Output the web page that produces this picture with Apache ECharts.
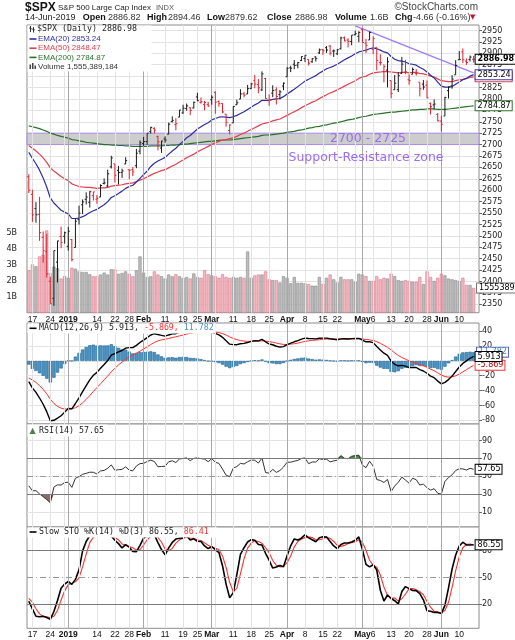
<!DOCTYPE html>
<html>
<head>
<meta charset="utf-8">
<title>$SPX Daily</title>
<script src="https://cdn.jsdelivr.net/npm/echarts@6.0.0/dist/echarts.min.js"></script>
<style>
  html, body { margin: 0; padding: 0; background: #fff; }
  #chart { width: 515px; height: 640px; }
</style>
</head>
<body>
<div id="chart"></div>
<script>
// trading days on the chart, by month
var monthDays = [
  ['Dec', [14, 17, 18, 19, 20, 21, 24, 26, 27, 28, 31]],
  ['Jan', [2, 3, 4, 7, 8, 9, 10, 11, 14, 15, 16, 17, 18, 22, 23, 24, 25, 28, 29, 30, 31]],
  ['Feb', [1, 4, 5, 6, 7, 8, 11, 12, 13, 14, 15, 19, 20, 21, 22, 25, 26, 27, 28]],
  ['Mar', [1, 4, 5, 6, 7, 8, 11, 12, 13, 14, 15, 18, 19, 20, 21, 22, 25, 26, 27, 28, 29]],
  ['Apr', [1, 2, 3, 4, 5, 8, 9, 10, 11, 12, 15, 16, 17, 18, 22, 23, 24, 25, 26, 29, 30]],
  ['May', [1, 2, 3, 6, 7, 8, 9, 10, 13, 14, 15, 16, 17, 20, 21, 22, 23, 24, 28, 29, 30, 31]],
  ['Jun', [3, 4, 5, 6, 7, 10, 11, 12, 13, 14]]
];
var prevClose = 2650.54; // 13-Dec, only used to colour the first bar

var openP = [2629.68, 2590.75, 2559.90, 2547.05, 2496.77, 2465.38, 2400.56, 2363.12, 2442.50, 2498.77, 2498.94,
  2476.96, 2491.92, 2474.33, 2535.61, 2568.11, 2580.00, 2573.51, 2588.11, 2580.31, 2585.10, 2614.75, 2609.28, 2651.27, 2657.88, 2643.48, 2638.84, 2657.44, 2644.97, 2644.89, 2653.62, 2685.49,
  2702.32, 2706.49, 2728.34, 2735.05, 2717.53, 2692.36, 2712.40, 2722.61, 2750.30, 2743.50, 2760.24, 2769.28, 2779.05, 2780.67, 2780.24, 2804.35, 2792.36, 2787.50, 2788.11,
  2798.22, 2814.37, 2794.41, 2790.27, 2766.53, 2730.79, 2747.61, 2787.34, 2799.78, 2811.02, 2810.79, 2822.61, 2840.76, 2831.34, 2819.72, 2844.52, 2796.01, 2812.66, 2819.72, 2809.40, 2828.27,
  2848.63, 2868.24, 2876.09, 2873.99, 2884.16, 2888.46, 2886.58, 2881.37, 2891.92, 2900.86, 2908.32, 2912.26, 2916.04, 2904.81, 2898.78, 2909.99, 2934.00, 2928.99, 2925.81, 2940.58, 2937.14,
  2952.33, 2922.16, 2929.21, 2908.89, 2913.03, 2879.61, 2859.84, 2863.10, 2840.19, 2820.12, 2820.38, 2855.80, 2858.60, 2841.94, 2854.02, 2856.06, 2836.70, 2832.41, 2830.03, 2790.25, 2786.94, 2766.15,
  2751.53, 2762.64, 2818.09, 2828.51, 2852.87, 2885.83, 2903.27, 2882.73, 2886.24, 2886.82];
var highP = [2635.07, 2601.13, 2573.99, 2585.29, 2509.63, 2504.41, 2410.34, 2467.76, 2489.10, 2520.27, 2509.24,
  2519.49, 2493.14, 2538.07, 2566.16, 2579.82, 2595.32, 2597.82, 2596.27, 2589.32, 2613.08, 2625.76, 2645.06, 2675.47, 2657.88, 2653.19, 2647.20, 2672.38, 2644.97, 2650.93, 2690.44, 2708.95,
  2716.66, 2724.99, 2738.98, 2738.08, 2719.32, 2708.07, 2718.05, 2748.19, 2761.85, 2757.90, 2775.66, 2787.33, 2789.88, 2781.58, 2794.20, 2813.49, 2803.12, 2795.76, 2793.73,
  2808.02, 2816.88, 2796.44, 2790.27, 2767.25, 2744.13, 2784.00, 2798.32, 2821.24, 2815.00, 2830.73, 2835.41, 2852.42, 2843.54, 2860.31, 2846.16, 2809.79, 2829.87, 2825.56, 2819.71, 2836.03,
  2869.40, 2872.90, 2885.25, 2881.28, 2893.24, 2895.95, 2886.88, 2889.71, 2893.42, 2910.54, 2909.60, 2916.06, 2918.00, 2908.40, 2909.51, 2936.31, 2936.83, 2933.10, 2939.88, 2949.52, 2948.22,
  2954.13, 2931.68, 2947.85, 2937.32, 2913.03, 2897.96, 2875.97, 2891.31, 2840.19, 2852.54, 2858.68, 2892.15, 2885.48, 2853.86, 2868.88, 2865.47, 2836.70, 2841.36, 2840.51, 2792.03, 2799.00, 2768.98,
  2763.07, 2804.49, 2827.28, 2852.10, 2884.97, 2904.77, 2910.61, 2888.57, 2895.24, 2894.45];
var lowP = [2593.84, 2530.54, 2528.71, 2488.96, 2441.18, 2408.55, 2351.10, 2346.58, 2397.94, 2472.89, 2482.82,
  2467.47, 2443.96, 2474.33, 2524.56, 2547.56, 2568.89, 2562.02, 2577.40, 2570.41, 2585.10, 2612.68, 2606.36, 2647.58, 2617.27, 2612.86, 2627.01, 2657.33, 2624.06, 2631.05, 2648.34, 2678.65,
  2696.88, 2698.75, 2724.03, 2724.15, 2687.26, 2681.83, 2703.79, 2722.61, 2748.63, 2731.23, 2760.24, 2767.29, 2774.06, 2764.55, 2779.11, 2794.99, 2789.47, 2775.13, 2782.51,
  2787.38, 2767.66, 2782.97, 2768.69, 2739.09, 2722.27, 2747.61, 2786.73, 2799.78, 2803.46, 2810.79, 2821.99, 2823.27, 2812.43, 2817.38, 2800.47, 2785.02, 2803.99, 2787.72, 2798.77, 2819.23,
  2848.63, 2858.75, 2865.17, 2867.14, 2882.99, 2880.78, 2873.33, 2879.13, 2881.99, 2898.37, 2896.48, 2900.71, 2895.45, 2891.90, 2896.35, 2908.53, 2926.05, 2912.84, 2917.56, 2939.35, 2924.11,
  2923.36, 2900.50, 2929.21, 2898.21, 2862.60, 2873.28, 2836.40, 2825.39, 2801.43, 2820.12, 2815.08, 2855.80, 2854.23, 2831.29, 2854.02, 2851.11, 2805.49, 2820.19, 2801.58, 2766.06, 2776.74, 2750.52,
  2728.81, 2762.64, 2800.92, 2822.45, 2852.87, 2885.51, 2878.53, 2874.68, 2881.99, 2879.62];
var closeP = [2599.95, 2545.94, 2546.16, 2506.96, 2467.42, 2416.62, 2351.10, 2467.70, 2488.83, 2485.74, 2506.85,
  2510.03, 2447.89, 2531.94, 2549.69, 2574.41, 2584.96, 2596.64, 2596.26, 2582.61, 2610.30, 2616.10, 2635.96, 2670.71, 2632.90, 2638.70, 2642.33, 2664.76, 2643.85, 2640.00, 2681.05, 2704.10,
  2706.53, 2724.87, 2737.70, 2731.61, 2706.05, 2707.88, 2709.80, 2744.73, 2753.03, 2745.73, 2775.60, 2779.76, 2784.70, 2774.88, 2792.67, 2796.11, 2793.90, 2792.38, 2784.49,
  2803.69, 2792.81, 2789.65, 2771.45, 2748.93, 2743.07, 2783.30, 2791.52, 2810.92, 2808.48, 2822.48, 2832.94, 2832.57, 2824.23, 2854.88, 2800.71, 2798.36, 2818.46, 2805.37, 2815.44, 2834.40,
  2867.19, 2867.24, 2873.40, 2879.39, 2892.74, 2895.77, 2878.20, 2888.21, 2888.32, 2907.41, 2905.58, 2907.06, 2900.45, 2905.03, 2907.97, 2933.68, 2927.25, 2926.17, 2939.88, 2943.03, 2945.83,
  2923.73, 2917.52, 2945.64, 2932.47, 2884.05, 2879.42, 2870.72, 2881.40, 2811.87, 2834.41, 2850.96, 2876.32, 2859.53, 2840.23, 2864.36, 2856.27, 2822.24, 2826.06, 2802.39, 2783.02, 2788.86, 2752.06,
  2744.45, 2803.27, 2826.15, 2843.49, 2873.34, 2886.73, 2885.72, 2879.84, 2891.64, 2886.98];

// volume in billions of shares
var volume = [2.67, 3.04, 2.92, 3.54, 3.65, 5.17, 2.5, 2.9, 2.8, 2.15, 2.3,
  2.2, 2.83, 2.77, 2.6, 2.56, 2.56, 2.42, 2.29, 2.3, 2.4, 2.52, 2.4, 2.73, 2.73, 2.45, 2.5, 2.6, 2.45, 2.29, 2.67, 3.54,
  2.52, 2.25, 2.29, 2.6, 2.4, 2.29, 2.15, 2.4, 2.29, 2.42, 2.29, 2.19, 2.25, 2.15, 2.47, 2.25, 2.2, 2.67, 2.42,
  2.35, 2.29, 2.2, 2.42, 2.25, 2.19, 2.25, 2.2, 2.25, 2.2, 3.85, 2.2, 2.35, 2.4, 2.4, 2.6, 2.1, 2.05, 2.05, 1.9, 2.3,
  2.2, 1.85, 2.25, 1.88, 1.88, 1.85, 1.8, 1.7, 1.7, 2.25, 1.82, 2.2, 2.4, 2.1, 1.9, 2.25, 2.1, 2.1, 2.1, 1.95, 2.45,
  2.4, 2.3, 2.0, 2.0, 2.3, 2.1, 2.2, 2.15, 2.45, 2.3, 2.05, 2.0, 2.05, 2.0, 1.95, 1.95, 2.25, 1.8, 2.6, 2.25, 2.0, 2.2,
  2.45, 2.35, 2.15, 2.1, 2.05, 2.0, 2.2, 1.75, 1.75, 1.555];

var ema20 = [2683, 2670, 2658, 2644, 2627, 2607, 2583, 2572, 2564, 2556, 2552,
  2548, 2538, 2538, 2539, 2542, 2546, 2551, 2555, 2558, 2563, 2568, 2575, 2584, 2588, 2593, 2598, 2604, 2608, 2611, 2618, 2626,
  2634, 2642, 2652, 2659, 2664, 2668, 2672, 2679, 2686, 2692, 2700, 2707, 2715, 2720, 2727, 2734, 2739, 2744, 2748,
  2754, 2757, 2760, 2761, 2760, 2759, 2761, 2764, 2768, 2772, 2777, 2782, 2787, 2791, 2797, 2797, 2797, 2799, 2800, 2801, 2805,
  2811, 2816, 2821, 2827, 2833, 2839, 2843, 2847, 2851, 2857, 2861, 2866, 2869, 2872, 2876, 2881, 2886, 2890, 2894, 2899, 2903,
  2905, 2907, 2910, 2912, 2910, 2907, 2903, 2901, 2893, 2887, 2884, 2883, 2881, 2877, 2876, 2874, 2869, 2865, 2859, 2852, 2846, 2837,
  2828, 2826, 2826, 2827, 2832, 2837, 2842, 2845, 2850, 2853.24];
var ema50 = [2698, 2692, 2686, 2679, 2671, 2661, 2649, 2642, 2636, 2630, 2625,
  2621, 2614, 2611, 2608, 2607, 2606, 2606, 2605, 2604, 2605, 2605, 2606, 2609, 2610, 2611, 2612, 2614, 2615, 2616, 2619, 2622,
  2625, 2629, 2633, 2637, 2640, 2643, 2645, 2649, 2653, 2657, 2662, 2666, 2671, 2675, 2679, 2684, 2688, 2692, 2696,
  2700, 2704, 2707, 2710, 2711, 2713, 2715, 2718, 2722, 2725, 2729, 2733, 2737, 2741, 2745, 2747, 2749, 2752, 2754, 2756, 2760,
  2764, 2768, 2772, 2776, 2781, 2785, 2789, 2793, 2796, 2801, 2805, 2809, 2813, 2816, 2820, 2824, 2828, 2832, 2836, 2840, 2845,
  2848, 2850, 2854, 2857, 2858, 2859, 2860, 2860, 2859, 2858, 2857, 2858, 2858, 2857, 2858, 2858, 2856, 2855, 2853, 2850, 2848, 2844,
  2840, 2839, 2838, 2838, 2840, 2842, 2843, 2845, 2847, 2848.47];
var ema200 = [2741, 2739, 2737, 2735, 2732, 2729, 2725, 2723, 2720, 2718, 2716,
  2714, 2711, 2710, 2708, 2707, 2705, 2704, 2703, 2702, 2701, 2700, 2700, 2699, 2699, 2698, 2698, 2697, 2697, 2696, 2696, 2696,
  2696, 2696, 2697, 2697, 2697, 2697, 2698, 2698, 2699, 2699, 2700, 2701, 2701, 2702, 2703, 2704, 2705, 2706, 2707,
  2707, 2708, 2709, 2710, 2710, 2710, 2711, 2712, 2713, 2714, 2715, 2716, 2717, 2718, 2720, 2721, 2721, 2722, 2723, 2724, 2725,
  2727, 2728, 2729, 2731, 2732, 2734, 2736, 2737, 2739, 2740, 2742, 2743, 2745, 2747, 2748, 2750, 2752, 2754, 2755, 2757, 2759,
  2761, 2762, 2764, 2766, 2767, 2768, 2769, 2770, 2771, 2771, 2772, 2773, 2774, 2775, 2776, 2776, 2777, 2777, 2778, 2778, 2778, 2777,
  2777, 2777, 2778, 2779, 2780, 2781, 2782, 2783, 2784, 2784.87];

var macdLine = [-28.0, -36.4, -42.5, -50.0, -58.4, -68.4, -80.7, -80.0, -77.0, -73.9, -69.0,
  -64.1, -64.5, -57.4, -49.7, -41.3, -33.2, -25.6, -19.4, -15.5, -9.9, -4.9, 0.4, 7.6, 9.9, 12.1, 14.0, 17.2, 17.8, 17.8, 20.9, 24.8,
  27.9, 31.3, 34.8, 36.6, 35.5, 34.4, 33.3, 34.9, 36.4, 36.6, 38.7, 40.3, 41.3, 41.0, 41.7, 42.0, 41.6, 40.7, 38.9,
  38.5, 37.0, 35.0, 31.7, 27.0, 22.5, 21.9, 21.8, 23.0, 23.6, 24.8, 26.3, 27.2, 26.9, 28.9, 25.7, 22.7, 21.7, 19.7, 18.6, 19.2,
  22.0, 23.9, 25.7, 27.2, 29.2, 30.7, 30.1, 30.0, 29.6, 30.5, 30.7, 30.7, 29.8, 29.1, 28.4, 29.6, 29.8, 29.4, 29.9, 30.1, 30.2,
  28.1, 25.7, 25.8, 24.6, 19.4, 14.7, 10.3, 7.5, -0.4, -4.6, -6.6, -6.0, -7.0, -9.1, -8.7, -8.9, -11.8, -13.6, -16.7, -20.5, -22.7, -27.2,
  -31.0, -28.9, -25.2, -20.5, -14.3, -8.2, -3.4, 0.0, 3.5, 5.913];
var macdSignal = [-23.0, -25.7, -29.0, -33.3, -38.3, -44.4, -51.6, -57.3, -61.2, -63.7, -64.8,
  -64.6, -64.5, -63.1, -60.4, -56.6, -51.9, -46.7, -41.2, -36.0, -30.8, -25.6, -20.4, -14.8, -9.9, -5.5, -1.6, 2.1, 5.2, 7.7, 10.3, 13.1,
  16.0, 18.9, 22.0, 24.8, 26.9, 28.3, 29.2, 30.2, 31.4, 32.4, 33.6, 34.9, 36.1, 37.0, 37.9, 38.7, 39.3, 39.6, 39.4,
  39.2, 38.8, 38.0, 36.8, 34.8, 32.3, 30.2, 28.6, 27.4, 26.6, 26.3, 26.3, 26.4, 26.6, 27.0, 26.7, 25.9, 25.1, 24.0, 22.9, 22.1,
  22.1, 22.5, 23.1, 23.9, 25.1, 26.2, 27.0, 27.6, 28.0, 28.5, 29.0, 29.4, 29.5, 29.4, 29.2, 29.3, 29.4, 29.4, 29.5, 29.7, 29.8,
  29.5, 28.8, 28.2, 27.5, 25.9, 23.7, 21.0, 18.3, 14.6, 10.8, 7.3, 4.6, 2.3, 0.0, -1.7, -3.2, -4.9, -6.6, -8.6, -11.0, -13.3, -16.1,
  -19.1, -21.1, -21.9, -21.6, -20.1, -17.7, -14.8, -11.8, -8.8, -5.869];
var macdHist = [-5.0, -10.7, -13.5, -16.7, -20.1, -24.0, -29.1, -22.7, -15.8, -10.2, -4.2,
  0.5, 0.0, 5.7, 10.7, 15.3, 18.7, 21.1, 21.8, 20.5, 20.9, 20.7, 20.8, 22.4, 19.8, 17.6, 15.6, 15.1, 12.6, 10.1, 10.6, 11.7,
  11.9, 12.4, 12.8, 11.8, 8.6, 6.1, 4.1, 4.7, 5.0, 4.2, 5.1, 5.4, 5.2, 4.0, 3.8, 3.3, 2.3, 1.1, -0.5,
  -0.7, -1.8, -3.0, -5.1, -7.8, -9.8, -8.3, -6.8, -4.4, -3.0, -1.5, 0.0, 0.8, 0.3, 1.9, -1.0, -3.2, -3.4, -4.3, -4.3, -2.9,
  -0.1, 1.4, 2.6, 3.3, 4.1, 4.5, 3.1, 2.4, 1.6, 2.0, 1.7, 1.3, 0.3, -0.3, -0.8, 0.3, 0.4, 0.0, 0.4, 0.4, 0.4,
  -1.4, -3.1, -2.4, -2.9, -6.5, -9.0, -10.7, -10.8, -15.0, -15.4, -13.9, -10.6, -9.3, -9.1, -7.0, -5.7, -6.9, -7.0, -8.1, -9.5, -9.4, -11.1,
  -11.9, -7.8, -3.3, 1.1, 5.8, 9.5, 11.4, 11.8, 12.3, 11.782];

var rsi = [39.1, 33.6, 33.7, 30.1, 27.0, 23.7, 20.2, 37.7, 40.3, 40.0, 42.8,
  43.2, 37.4, 47.6, 49.5, 52.0, 53.1, 54.4, 54.3, 52.4, 55.8, 56.4, 58.8, 62.6, 56.5, 57.2, 57.6, 60.4, 56.7, 55.9, 61.4, 64.0,
  64.3, 66.4, 67.9, 66.4, 60.5, 60.8, 61.1, 66.1, 67.2, 65.2, 69.2, 69.8, 70.4, 67.3, 69.9, 70.4, 69.6, 69.1, 66.1,
  69.6, 65.5, 64.3, 57.9, 51.1, 49.4, 59.0, 60.7, 64.3, 63.6, 66.1, 68.0, 67.8, 64.6, 70.3, 54.0, 53.4, 57.6, 54.2, 56.3, 60.1,
  65.6, 65.6, 66.7, 67.6, 69.8, 70.3, 63.9, 65.8, 65.8, 69.4, 68.7, 68.9, 66.0, 67.1, 67.8, 73.0, 70.0, 69.4, 72.3, 73.0, 73.5,
  62.3, 59.5, 66.7, 61.2, 46.2, 45.1, 42.9, 46.3, 32.7, 38.9, 43.1, 48.9, 45.6, 42.1, 47.6, 46.0, 40.0, 41.0, 37.1, 34.3, 35.9, 30.8,
  29.9, 44.0, 48.4, 51.5, 56.3, 58.3, 58.1, 56.8, 58.8, 57.65];

var stoK = [23.4, 14.9, 6.6, 6.0, 6.5, 5.1, 3.1, 11.9, 24.3, 38.0, 42.6,
  45.5, 42.3, 47.9, 58.5, 79.8, 90.3, 96.9, 98.2, 97.6, 97.4, 96.2, 96.8, 96.4, 91.7, 87.9, 83.1, 86.8, 83.9, 79.0, 78.9, 86.0,
  94.1, 96.5, 97.3, 97.8, 89.1, 81.2, 75.4, 83.1, 89.2, 93.0, 94.0, 94.3, 96.6, 92.0, 93.3, 90.5, 90.2, 85.3, 82.4,
  84.4, 81.2, 77.9, 63.2, 42.6, 27.2, 33.0, 53.2, 75.8, 83.3, 89.7, 92.4, 91.6, 86.9, 86.4, 77.1, 69.3, 60.5, 61.7, 63.4, 62.0,
  74.4, 85.5, 93.1, 92.0, 94.0, 97.8, 94.4, 92.3, 90.0, 94.5, 95.5, 95.3, 90.2, 85.3, 82.2, 86.9, 88.6, 88.6, 89.8, 91.6, 95.4,
  81.4, 64.6, 61.8, 64.3, 58.3, 35.7, 23.7, 30.4, 26.5, 24.0, 20.3, 34.3, 39.8, 37.5, 35.5, 35.3, 31.9, 25.0, 12.8, 12.2, 10.9, 10.9,
  9.6, 18.8, 38.3, 59.5, 75.1, 85.2, 89.5, 86.4, 86.3, 86.55];
var stoD = [26.5, 22.5, 15.0, 9.2, 6.4, 5.9, 4.9, 6.7, 13.1, 24.7, 35.0,
  42.0, 43.5, 45.2, 49.6, 62.1, 76.2, 89.0, 95.1, 97.6, 97.7, 97.1, 96.8, 96.5, 95.0, 92.0, 87.6, 85.9, 84.6, 83.2, 80.6, 81.3,
  86.3, 92.2, 96.0, 97.2, 94.7, 89.4, 81.9, 79.9, 82.6, 88.4, 92.1, 93.8, 95.0, 94.3, 94.0, 91.9, 91.3, 88.7, 86.0,
  84.0, 82.7, 81.2, 74.1, 61.2, 44.3, 34.3, 37.8, 54.0, 70.8, 82.9, 88.5, 91.2, 90.3, 88.3, 83.5, 77.6, 69.0, 63.8, 61.9, 62.4,
  66.6, 74.0, 84.3, 90.2, 93.0, 94.6, 95.4, 94.8, 92.2, 92.3, 93.3, 95.1, 93.7, 90.3, 85.9, 84.8, 85.9, 88.0, 89.0, 90.0, 92.3,
  89.5, 80.5, 69.3, 63.6, 61.5, 52.8, 39.2, 29.9, 26.9, 27.0, 23.6, 26.2, 31.5, 37.2, 37.6, 36.1, 34.2, 30.7, 23.2, 16.7, 12.0, 11.3,
  10.5, 13.1, 22.2, 38.9, 57.6, 73.3, 83.3, 87.0, 87.4, 86.41];

// axis labels
var tickIdx = [1, 6, 11, 19, 24, 28, 32, 38, 43, 47, 51, 57, 62, 67, 72, 77, 82, 86, 93, 96, 101, 106, 111, 115, 120];
var tickText = ['17', '24', '2019', '14', '22', '28', 'Feb', '11', '19', '25', 'Mar', '11', '18', '25', 'Apr', '8', '15', '22', 'May', '6', '13', '20', '28', 'Jun', '10'];
var monthText = ['2019', 'Feb', 'Mar', 'Apr', 'May', 'Jun'];
var weekIdx = [1, 6, 10, 14, 19, 24, 28, 33, 38, 43, 47, 52, 57, 62, 67, 77, 82, 86, 91, 96, 101, 106, 111, 120];
var monthIdx = [11, 32, 51, 72, 93, 115];
var priceTicks = [2350, 2375, 2400, 2425, 2450, 2475, 2500, 2525, 2550, 2575, 2600, 2625, 2650, 2675,
  2700, 2725, 2750, 2775, 2800, 2825, 2850, 2875, 2900, 2925, 2950];
var volTicks = [1, 2, 3, 4, 5];
var macdTicks = [-80, -60, -40, -20, 0, 20, 40];
var rsiTicks = [10, 30, 50, 70, 90];
var stoTicks = [20, 50, 80];

// annotations
var zone = [2700, 2725];
var trendLine = [[91, 2960], [124, 2857]];

var categories = [];
monthDays.forEach(function (m) {
  m[1].forEach(function (d) { categories.push(m[0] + ' ' + d); });
});
var axisCats = categories.concat(['']); // a little room after the last bar

var labelMap = {};
tickIdx.forEach(function (i, k) { labelMap[i] = tickText[k]; });

var upDown = closeP.map(function (c, i) {
  return c >= (i ? closeP[i - 1] : prevClose) ? 1 : -1;
});

var SANS = 'Liberation Sans';
var MONO = 'DejaVu Sans Mono';
var AXF = 'DejaVu Sans';

function plainNum(v) { return String(v); }

function xAxisFor(gi, withLabels) {
  return {
    type: 'category', gridIndex: gi, data: axisCats, boundaryGap: true,
    axisLine: { show: false }, axisTick: { show: false }, splitLine: { show: false },
    axisLabel: withLabels ? {
      show: true, hideOverlap: false,
      interval: function (i) { return labelMap[i] !== undefined; },
      formatter: function (v, i) {
        var t = labelMap[i];
        if (t === undefined) return '';
        return monthText.indexOf(t) >= 0 ? '{b|' + t + '}' : t;
      },
      margin: 2, fontSize: 8.5, fontFamily: SANS, color: '#111',
      rich: { b: { fontSize: 8.5, fontFamily: SANS, fontWeight: 'bold', color: '#111' } }
    } : { show: false }
  };
}

function yAxisFor(gi, min, max, ticks, split) {
  return {
    type: 'value', gridIndex: gi, position: 'right', min: min, max: max,
    axisLine: { show: false },
    axisTick: { show: true, length: 3, customValues: ticks, lineStyle: { color: '#666' } },
    axisLabel: { customValues: ticks, formatter: plainNum, margin: 3, fontSize: 8, fontFamily: AXF, color: '#222' },
    splitLine: { show: split, lineStyle: { color: '#e3e3e3', width: 1 } }
  };
}

function gridLines(gi, yi, extra) {
  var lines = [];
  weekIdx.forEach(function (i) { lines.push({ xAxis: i, lineStyle: { color: '#e3e3e3' } }); });
  monthIdx.forEach(function (i) { lines.push({ xAxis: i, lineStyle: { color: '#a8a8a8' } }); });
  return {
    type: 'line', xAxisIndex: gi, yAxisIndex: yi, data: [], silent: true, z: 1,
    markLine: {
      silent: true, symbol: ['none', 'none'], label: { show: false },
      lineStyle: { type: 'solid', width: 1 },
      data: lines.concat(extra || [])
    }
  };
}

function tag(text, border, color, bold) {
  return {
    show: true, formatter: text, distance: 2,
    color: color || '#000', backgroundColor: '#fff', borderColor: border, borderWidth: 1,
    padding: [1, 1, 0, 2], fontSize: 8, fontFamily: AXF, fontWeight: bold ? 'bold' : 'normal'
  };
}

function plainLine(gi, yi, data, color, width, z, endLabel) {
  return {
    type: 'line', xAxisIndex: gi, yAxisIndex: yi, data: data, showSymbol: false, symbol: 'none',
    lineStyle: { color: color, width: width }, z: z, silent: true,
    endLabel: endLabel || { show: false }
  };
}

function renderBar(params, api) {
  var i = api.value(0);
  var op = api.coord([i, api.value(1)]);
  var hi = api.coord([i, api.value(2)]);
  var lo = api.coord([i, api.value(3)]);
  var cl = api.coord([i, api.value(4)]);
  var w = api.size([1, 0])[0] * 0.42;
  var st = { stroke: api.value(5) > 0 ? '#1a1a1a' : '#e0202c', lineWidth: 1 };
  return {
    type: 'group', children: [
      { type: 'line', shape: { x1: hi[0], y1: hi[1], x2: lo[0], y2: lo[1] }, style: st },
      { type: 'line', shape: { x1: op[0] - w, y1: op[1], x2: op[0], y2: op[1] }, style: st },
      { type: 'line', shape: { x1: cl[0], y1: cl[1], x2: cl[0] + w, y2: cl[1] }, style: st }
    ]
  };
}

var last = categories.length - 1;

function lastTag(text, border, color) {
  return {
    show: true, formatter: text, position: [5, 0], verticalAlign: 'middle', align: 'left',
    color: color, backgroundColor: '#fff', borderColor: border, borderWidth: 1,
    padding: [1, 1, 0, 2], fontSize: 8, fontFamily: AXF
  };
}

var volData = volume.map(function (v, i) {
  var up = upDown[i] > 0;
  var item = {
    value: v,
    itemStyle: { color: up ? '#bcbcbc' : '#f4b7c0', borderColor: up ? '#8c8c8c' : '#d97b8c', borderWidth: 0.6 }
  };
  if (i === last) item.label = lastTag('1555389', '#777', '#000');
  return item;
});

var histData = macdHist.map(function (v, i) {
  var item = { value: v };
  if (i === last) item.label = lastTag('11.782', '#5a62c8', '#3a7fb8');
  return item;
});

var barData = closeP.map(function (c, i) {
  return [i, openP[i], highP[i], lowP[i], c, upDown[i]];
});

var base70 = rsi.map(function () { return 70; });
var over70 = rsi.map(function (v) { return Math.max(v - 70, 0); });
var under30Base = rsi.map(function (v) { return Math.min(v, 30); });
var under30 = rsi.map(function (v) { return 30 - Math.min(v, 30); });

var gridBase = { left: 27, right: 36, show: true, borderColor: '#8c8c8c', borderWidth: 1, backgroundColor: '#fff', outerBoundsMode: 'none' };

function txt(x, y, text, font, fill, align) {
  return { type: 'text', x: x, y: y, z: 101, silent: true,
    style: { text: text, font: font, fill: fill, align: align || 'left', verticalAlign: 'middle' } };
}
function box(x, y, w, h) {
  return { type: 'rect', z: 100, silent: true, shape: { x: x, y: y, width: w, height: h }, style: { fill: '#fff' } };
}
function dash(x, y, color) {
  return { type: 'line', z: 101, silent: true, shape: { x1: x, y1: y, x2: x + 7, y2: y }, style: { stroke: color, lineWidth: 1.6 } };
}

var f9 = '9px "' + SANS + '"';
var f9b = 'bold 9px "' + SANS + '"';
var fLeg = '8px "' + SANS + '"';
var fMono = '8.3px "' + MONO + '"';

var graphics = [
  // header
  txt(25, 7.5, '$SPX', 'bold 12px "' + SANS + '"', '#111'),
  txt(58, 8, 'S&P 500 Large Cap Index', '8px "' + SANS + '"', '#222'),
  txt(156, 8, 'INDX', '7.5px "' + SANS + '"', '#555'),
  txt(478, 7.5, '\u00a9StockCharts.com', '10px "' + SANS + '"', '#444', 'right'),
  txt(25, 17.3, '14-Jun-2019', f9, '#222'),
  txt(82.7, 17.3, 'Open', f9b, '#111'), txt(108, 17.3, '2886.82', f9, '#333'),
  txt(147, 17.3, 'High', f9b, '#111'), txt(168, 17.3, '2894.46', f9, '#333'),
  txt(207, 17.3, 'Low', f9b, '#111'), txt(225, 17.3, '2879.62', f9, '#333'),
  txt(267, 17.3, 'Close', f9b, '#111'), txt(295, 17.3, '2886.98', f9, '#333'),
  txt(335, 17.3, 'Volume', f9b, '#111'), txt(370, 17.3, '1.6B', f9, '#333'),
  txt(395, 17.3, 'Chg', f9b, '#111'), txt(413, 17.3, '-4.66 (-0.16%)', f9, '#333'),
  txt(470, 17.5, '\u25bc', '7px "' + AXF + '"', '#c8102e'),

  // price legend
  box(27.5, 25.5, 124, 46),
  { type: 'line', z: 101, silent: true, shape: { x1: 30.5, y1: 26, x2: 30.5, y2: 32 }, style: { stroke: '#333', lineWidth: 1 } },
  { type: 'line', z: 101, silent: true, shape: { x1: 33.5, y1: 27, x2: 33.5, y2: 32.5 }, style: { stroke: '#333', lineWidth: 1 } },
  { type: 'line', z: 101, silent: true, shape: { x1: 29, y1: 28, x2: 35, y2: 30 }, style: { stroke: '#333', lineWidth: 0.8 } },
  txt(37, 29, '$SPX (Daily) 2886.98', fMono, '#222'),
  dash(29.5, 39, '#2e2e9e'), txt(38, 39, 'EMA(20) 2853.24', fLeg, '#2e2e9e'),
  dash(29.5, 48.2, '#e0404e'), txt(38, 48.2, 'EMA(50) 2848.47', fLeg, '#e0404e'),
  dash(29.5, 57.4, '#2a702a'), txt(38, 57.4, 'EMA(200) 2784.87', fLeg, '#2a702a'),
  { type: 'rect', z: 101, silent: true, shape: { x: 29.5, y: 64.5, width: 1.5, height: 4.5 }, style: { fill: '#444' } },
  { type: 'rect', z: 101, silent: true, shape: { x: 32, y: 63, width: 1.5, height: 6 }, style: { fill: '#444' } },
  { type: 'rect', z: 101, silent: true, shape: { x: 34.5, y: 65.5, width: 1.5, height: 3.5 }, style: { fill: '#444' } },
  txt(38, 66.4, 'Volume 1,555,389,184', fLeg, '#333'),

  // support / resistance zone text
  txt(368, 139, '2700 - 2725', '12.5px "' + AXF + '"', '#9b6cf2', 'center'),
  txt(366, 157.3, 'Support-Resistance zone', '12.5px "' + AXF + '"', '#9b6cf2', 'center'),

  // MACD legend
  box(27.5, 323.5, 188, 10),
  dash(29.5, 328.3, '#000'),
  { type: 'text', x: 39, y: 328.3, z: 101, silent: true,
    style: { text: '{k|MACD(12,26,9) 5.913, }{r|-5.869, }{b|11.782}', verticalAlign: 'middle',
      rich: { k: { fill: '#222', font: fMono }, r: { fill: '#ff3030', font: fMono }, b: { fill: '#4a90c8', font: fMono } } } },

  // RSI legend
  box(27.5, 424.5, 80, 12),
  txt(29.5, 431, '\u25b2', '8px "' + AXF + '"', '#4f7f4f'),
  txt(39, 431, 'RSI(14) 57.65', fMono, '#222'),

  // STO legend
  box(27.5, 527.5, 190, 10),
  dash(29.5, 532, '#000'),
  { type: 'text', x: 39, y: 532, z: 101, silent: true,
    style: { text: '{k|Slow STO %K(14) %D(3) 86.55, }{r|86.41}', verticalAlign: 'middle',
      rich: { k: { fill: '#222', font: fMono }, r: { fill: '#ff3030', font: fMono } } } }
];

var option = {
  animation: false,
  backgroundColor: '#fff',
  grid: [
    Object.assign({ top: 25, height: 287.7 }, gridBase),
    Object.assign({ top: 323, height: 101 }, gridBase),
    Object.assign({ top: 424, height: 103 }, gridBase),
    Object.assign({ top: 527, height: 101.3 }, gridBase)
  ],
  xAxis: [xAxisFor(0, true), xAxisFor(1, false), xAxisFor(2, false), xAxisFor(3, true)],
  yAxis: [
    yAxisFor(0, 2331.6, 2962, priceTicks, true),
    {
      type: 'value', gridIndex: 0, position: 'left', min: 0, max: 18.1,
      axisLine: { show: false },
      axisTick: { show: false, customValues: volTicks },
      axisLabel: { customValues: volTicks, formatter: '{value}B', margin: 10, fontSize: 8, fontFamily: AXF, color: '#222' },
      splitLine: { show: false }
    },
    yAxisFor(1, -85, 51, macdTicks, true),
    yAxisFor(2, -7, 108.4, rsiTicks, true),
    yAxisFor(3, -6.9, 106.5, stoTicks, false)
  ],
  graphic: graphics,
  series: [
    // price panel
    (function () {
      var s = gridLines(0, 0);
      s.markArea = {
        silent: true,
        itemStyle: { color: '#cdcdcd', borderColor: '#a88be8', borderWidth: 1 },
        data: [[{ yAxis: zone[0] }, { yAxis: zone[1] }]]
      };
      return s;
    })(),
    {
      type: 'bar', xAxisIndex: 0, yAxisIndex: 1, data: volData, barCategoryGap: '12%', z: 2, silent: true
    },
    plainLine(0, 0, ema200, '#2a702a', 1.2, 3, tag('2784.87', '#2a702a')),
    plainLine(0, 0, ema50, '#e0404e', 1.2, 3, tag('2848.47', '#e0404e')),
    plainLine(0, 0, ema20, '#2e2e9e', 1.2, 4, tag('2853.24', '#3a3ab0')),
    {
      type: 'custom', xAxisIndex: 0, yAxisIndex: 0, data: barData, renderItem: renderBar,
      encode: { x: 0, y: [1, 2, 3, 4] }, z: 5, silent: true, clip: true
    },
    {
      type: 'line', xAxisIndex: 0, yAxisIndex: 0, data: [], silent: true, z: 6,
      markLine: {
        silent: true, symbol: ['none', 'none'], label: { show: false },
        lineStyle: { color: '#a37cf2', width: 1.4, type: 'solid' },
        data: [[{ coord: trendLine[0] }, { coord: trendLine[1] }]]
      }
    },
    {
      type: 'line', xAxisIndex: 0, yAxisIndex: 0, data: closeP, showSymbol: false, symbol: 'none',
      lineStyle: { opacity: 0, width: 0 }, silent: true, z: 7,
      endLabel: tag('2886.98', '#000', '#000', true)
    },

    // MACD panel
    gridLines(1, 2),
    {
      type: 'bar', xAxisIndex: 1, yAxisIndex: 2, data: histData, barCategoryGap: '8%', z: 2, silent: true,
      itemStyle: { color: '#4a96c8', borderColor: '#22628e', borderWidth: 0.6 }
    },
    plainLine(1, 2, macdSignal, '#ff3030', 1, 3, tag('-5.869', '#ff3030', '#c00000')),
    plainLine(1, 2, macdLine, '#000', 1.4, 4, tag('5.913', '#000')),

    // RSI panel
    gridLines(2, 3, [
      { yAxis: 70, lineStyle: { color: '#7a7a7a' } },
      { yAxis: 30, lineStyle: { color: '#7a7a7a' } },
      { yAxis: 50, lineStyle: { color: '#9a9a9a', type: [6, 3, 1, 3] } }
    ]),
    { type: 'line', xAxisIndex: 2, yAxisIndex: 3, stack: 'ob', data: base70, showSymbol: false, symbol: 'none', lineStyle: { opacity: 0 }, silent: true, z: 2 },
    { type: 'line', xAxisIndex: 2, yAxisIndex: 3, stack: 'ob', data: over70, showSymbol: false, symbol: 'none', lineStyle: { opacity: 0 }, areaStyle: { color: '#4f8a4f', opacity: 1 }, silent: true, z: 2 },
    { type: 'line', xAxisIndex: 2, yAxisIndex: 3, stack: 'os', data: under30Base, showSymbol: false, symbol: 'none', lineStyle: { opacity: 0 }, silent: true, z: 2 },
    { type: 'line', xAxisIndex: 2, yAxisIndex: 3, stack: 'os', data: under30, showSymbol: false, symbol: 'none', lineStyle: { opacity: 0 }, areaStyle: { color: '#8c6a6a', opacity: 1 }, silent: true, z: 2 },
    plainLine(2, 3, rsi, '#333', 1, 4, tag('57.65', '#000')),

    // Slow stochastic panel
    gridLines(3, 4, [
      { yAxis: 80, lineStyle: { color: '#7a7a7a' } },
      { yAxis: 20, lineStyle: { color: '#7a7a7a' } },
      { yAxis: 50, lineStyle: { color: '#9a9a9a', type: [6, 3, 1, 3] } }
    ]),
    plainLine(3, 4, stoD, '#ff3030', 1.1, 3),
    plainLine(3, 4, stoK, '#000', 1.6, 4, tag('86.55', '#000'))
  ]
};

var chart = echarts.init(document.getElementById('chart'));
chart.setOption(option);
</script>
</body>
</html>
